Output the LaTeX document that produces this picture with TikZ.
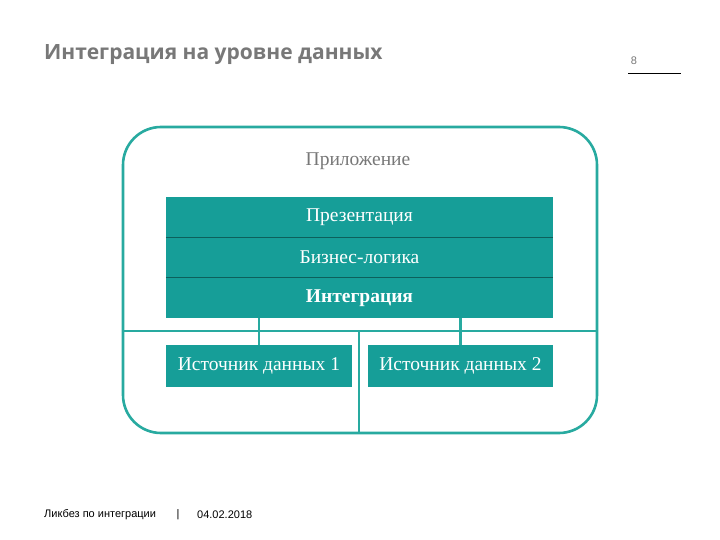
\documentclass[tikz,border=0pt]{standalone}
\usepackage{fontspec}
\setmainfont{Liberation Serif}
\newfontfamily\titlefont{Open Sans}
\newfontfamily\footfont{Liberation Sans}
\begin{document}
\begin{tikzpicture}[x=1pt,y=-1pt,
  teal/.style={fill=tealfill,draw=none,text=white,font=\fontsize{19.5}{22}\selectfont,inner sep=0pt},
  layer/.style={teal,minimum width=387pt,minimum height=40.5pt},
  source/.style={teal,minimum width=186pt,minimum height=42pt},
  conn/.style={draw=tealline,line width=2.2pt},
  foot/.style={font=\footfont\fontsize{11}{13}\selectfont,inner sep=0pt}
]
\definecolor{tealfill}{RGB}{22,158,152}
\definecolor{tealline}{RGB}{40,170,160}
\definecolor{darkteal}{RGB}{12,96,92}
\definecolor{graytext}{RGB}{120,120,120}
\useasboundingbox (0,0) rectangle (720,540);
\fill[white] (0,0) rectangle (720,540);
% title
\node[anchor=west,text=graytext,font=\titlefont\bfseries\fontsize{21}{24}\selectfont,inner sep=0pt] (title) at (44,55) {Интеграция на уровне данных};
\node[text=graytext,font=\footfont\fontsize{11}{13}\selectfont,inner sep=0pt] (pnum) at (634,61) {8};
\coordinate (pl1) at (628,73);
\coordinate (pl2) at (681,73);
\draw[line width=0.9pt,black] (pl1) -- (pl2);
% outer
\node[draw=tealline,line width=2.6pt,rounded corners=38pt,minimum width=474pt,minimum height=306pt,inner sep=0pt] (outer) at (360,280) {};
\node[text=graytext,font=\fontsize{19.5}{22}\selectfont,inner sep=0pt] (app) at (358,161) {Приложение};
% stack
\node[layer] (pres) at (359.5,217) {Презентация};
\node[layer] (biz) at (359.5,257.5) {Бизнес-логика};
\node[layer,font=\bfseries\fontsize{19.5}{22}\selectfont] (integ) at (359.5,298) {Интеграция};
\draw[darkteal,line width=1pt] (pres.south west) -- (pres.south east);
\draw[darkteal,line width=1pt] (biz.south west) -- (biz.south east);
% sources
\node[source] (src1) at (259,366) {Источник данных 1};
\node[source,minimum width=185pt] (src2) at (460.5,366) {Источник данных 2};
% connectors
\coordinate (hl) at (123,331);
\coordinate (hr) at (597,331);
\coordinate (vt) at (359,331);
\draw[conn] (hl) -- (hr);
\draw[conn] (vt) -- (vt |- outer.south);
\draw[conn] (integ.south -| src1) -- (src1.north);
\draw[conn] (integ.south -| src2) -- (src2.north);
% footer
\node[foot,anchor=west] (foot1) at (44,515) {Ликбез по интеграции};
\node[foot] (foot2) at (178,515) {|};
\node[foot,anchor=west] (foot3) at (197,515) {04.02.2018};
\end{tikzpicture}
\end{document}
